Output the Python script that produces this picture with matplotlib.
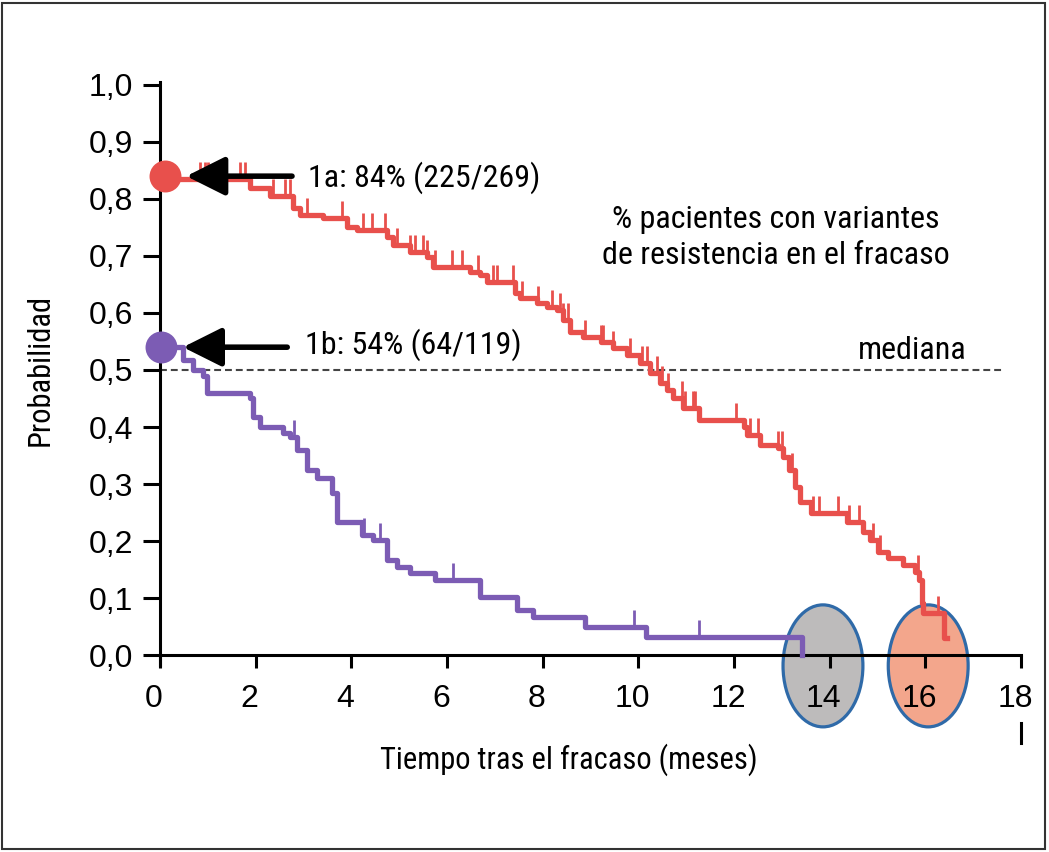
import numpy as np
import matplotlib
matplotlib.use('Agg')
import matplotlib.pyplot as plt
import matplotlib.transforms as mtransforms
from matplotlib import font_manager
from matplotlib.font_manager import FontProperties
from matplotlib.patches import Ellipse, Rectangle
from matplotlib.path import Path

# --- data (months, probability) ---
red_t = [0, 1.88, 2.30, 2.78, 2.93, 3.41, 3.91, 4.12, 4.75, 4.87,
         5.23, 5.59, 5.71, 6.49, 6.69, 6.84, 7.43, 7.53, 7.89, 8.10,
         8.31, 8.43, 8.58, 8.85, 9.21, 9.48, 9.77, 10.04, 10.25, 10.46,
         10.60, 10.73, 10.94, 11.26, 12.20, 12.28, 12.55, 12.91, 13.03, 13.14,
         13.28, 13.39, 13.60, 14.37, 14.69, 14.85, 15.00, 15.21, 15.54, 15.79,
         15.86, 15.94, 15.96, 16.38, 16.45]
red_s = [0.835, 0.82, 0.805, 0.785, 0.772, 0.766, 0.75, 0.745, 0.733, 0.72,
         0.707, 0.698, 0.68, 0.672, 0.667, 0.655, 0.635, 0.626, 0.617, 0.61,
         0.605, 0.588, 0.567, 0.558, 0.549, 0.539, 0.527, 0.513, 0.495, 0.477,
         0.465, 0.451, 0.433, 0.412, 0.40, 0.386, 0.368, 0.363, 0.348, 0.325,
         0.295, 0.268, 0.249, 0.233, 0.216, 0.202, 0.181, 0.17, 0.158, 0.146,
         0.132, 0.091, 0.074, 0.03, 0.03]
red_cens = [0.84, 0.94, 1.00, 1.67, 1.78, 2.36, 2.62, 2.72, 3.08, 3.81,
            4.25, 4.44, 4.71, 4.96, 5.23, 5.33, 5.50, 5.59, 5.75, 6.11,
            6.32, 6.65, 6.97, 7.05, 7.38, 7.57, 7.91, 8.20, 8.37, 8.43,
            8.52, 8.89, 9.21, 9.27, 9.48, 9.83, 10.08, 10.19, 10.40, 10.50,
            10.63, 10.92, 10.98, 11.15, 11.19, 12.05, 12.34, 12.51, 12.93, 13.01,
            13.22, 13.66, 13.77, 14.18, 14.41, 14.62, 14.90, 15.06, 15.84, 16.26]

purple_t = [0, 0.48, 0.69, 0.90, 0.98, 1.88, 1.95, 2.09, 2.57, 2.72,
            2.87, 3.08, 3.28, 3.60, 3.70, 4.23, 4.46, 4.75, 4.96, 5.23,
            5.75, 6.69, 7.47, 7.80, 8.89, 10.15, 13.43]
purple_s = [0.54, 0.517, 0.50, 0.49, 0.46, 0.451, 0.418, 0.40, 0.39, 0.383,
            0.36, 0.325, 0.31, 0.284, 0.233, 0.21, 0.202, 0.167, 0.154, 0.144,
            0.132, 0.102, 0.079, 0.067, 0.049, 0.032, 0.0]
purple_cens = [2.80, 3.08, 4.27, 4.60, 6.13, 9.90, 11.26]

start_x = [0.10, 0.02]
start_y = [0.84, 0.54]
median = 0.5
highlight_months = [13.86, 16.06]

xticks = list(range(0, 19, 2))
yticks = [i / 10 for i in range(11)]
ytick_labels = [f"{v:.1f}".replace('.', ',') for v in yticks]

RED = '#e8504c'
PURPLE = '#7c5cb4'

plt.rcParams['font.family'] = ['Liberation Sans', 'DejaVu Sans']

# look for a narrow sans face for the annotations, else plain Liberation Sans
narrow_file = None
for f in font_manager.fontManager.ttflist:
    if f.style != 'normal' or f.weight not in (400, 'normal', 'regular'):
        continue
    if f.name in ('Liberation Sans Narrow', 'Roboto Condensed', 'Open Sans Condensed',
                  'Noto Sans Condensed'):
        narrow_file = f.fname
        break
    if f.name in ('Noto Sans', 'Roboto', 'Open Sans') and f.stretch == 'condensed':
        narrow_file = f.fname


def narrow(size):
    if narrow_file:
        return dict(fontproperties=FontProperties(fname=narrow_file, size=size))
    return dict(fontsize=size * 0.85, family=['Liberation Sans', 'DejaVu Sans'])


W, H = 1049, 852
fig = plt.figure(figsize=(W / 100, H / 100), dpi=100)
ax = fig.add_axes([160 / W, (H - 665.3) / H, 861 / W, (665.3 - 82.1) / H])
ax.set_xlim(0, 18)
ax.set_ylim(-0.018, 1.005)

for s in ['top', 'right']:
    ax.spines[s].set_visible(False)
ax.spines['bottom'].set_position(('data', 0))
ax.spines['bottom'].set_linewidth(2.2)
ax.spines['left'].set_linewidth(2.2)

ax.set_xticks(xticks)
ax.set_xticklabels([str(v) for v in xticks])
ax.set_yticks(yticks)
ax.set_yticklabels(ytick_labels)
ax.tick_params(axis='x', direction='out', length=9.5, width=2.2, pad=11, labelsize=23)
ax.tick_params(axis='y', direction='out', length=12.5, width=2.2, pad=7, labelsize=23)
shift = mtransforms.ScaledTranslation(-6 / 100, 0, fig.dpi_scale_trans)
for lab in ax.get_xticklabels():
    lab.set_transform(lab.get_transform() + shift)

# highlighted months
ell_cols = ['#bdbbbb', '#f3a68c']
for m, c in zip(highlight_months, ell_cols):
    ax.add_patch(Ellipse((m, -0.019), 1.67, 0.214, fc=c, ec='#2f6aa8', lw=2.3,
                         clip_on=False, zorder=1.2))

# median line
ax.plot([0, 17.6], [median, median], color='#444444', lw=1.5, dashes=(3.3, 1.9), zorder=2)

# survival curves
ax.step(red_t, red_s, where='post', color=RED, lw=3.8, zorder=3)
ax.step(purple_t, purple_s, where='post', color=PURPLE, lw=3.8, zorder=3)

tick_marker = Path([(0, 0), (0, 1)])


def at(times, surv, t):
    i = np.searchsorted(times, t, side='right') - 1
    return np.asarray(surv)[i]


ax.plot(red_cens, at(red_t, red_s, red_cens), ls='none', marker=tick_marker,
        ms=24, mew=2.0, mec=RED, zorder=3)
ax.plot(purple_cens, at(purple_t, purple_s, purple_cens), ls='none', marker=tick_marker,
        ms=24, mew=2.0, mec=PURPLE, zorder=3)

# starting points
ax.plot(start_x[0], start_y[0], 'o', ms=23, color=RED, mec='none', clip_on=False, zorder=4)
ax.plot(start_x[1], start_y[1], 'o', ms=23, color=PURPLE, mec='none', clip_on=False, zorder=4)

arrow = dict(arrowstyle='-|>,head_length=0.7,head_width=0.35', color='k', lw=4,
             mutation_scale=34, shrinkA=0, shrinkB=0)
ax.annotate('', xy=(0.55, start_y[0]), xytext=(2.76, start_y[0]), arrowprops=arrow, zorder=5)
ax.annotate('', xy=(0.48, start_y[1]), xytext=(2.66, start_y[1]), arrowprops=arrow, zorder=5)

ax.text(3.09, 0.837, '1a: 84% (225/269)', ha='left', va='center', **narrow(23))
ax.text(3.03, 0.544, '1b: 54% (64/119)', ha='left', va='center', **narrow(23))
ax.text(12.88, 0.733, '% pacientes con variantes\nde resistencia en el fracaso',
        ha='center', va='center', linespacing=1.3, **narrow(23))
ax.text(14.59, 0.535, 'mediana', ha='left', va='center', **narrow(23))

# odd little mark under the 18 label
ax.plot([18, 18], [-0.119, -0.154], color='k', lw=2.2, clip_on=False)

fig.text(40 / W, 1 - 370 / H, 'Probabilidad', rotation=90, ha='center', va='center', **narrow(22))
fig.text(569 / W, 1 - 760 / H, 'Tiempo tras el fracaso (meses)', ha='center', va='center',
         **narrow(22))

fig.patches.append(Rectangle((2 / W, 3 / H), 1043 / W, 846 / H, transform=fig.transFigure,
                             fill=False, ec='#333333', lw=1.5))

fig.savefig('out.png', dpi=100)
